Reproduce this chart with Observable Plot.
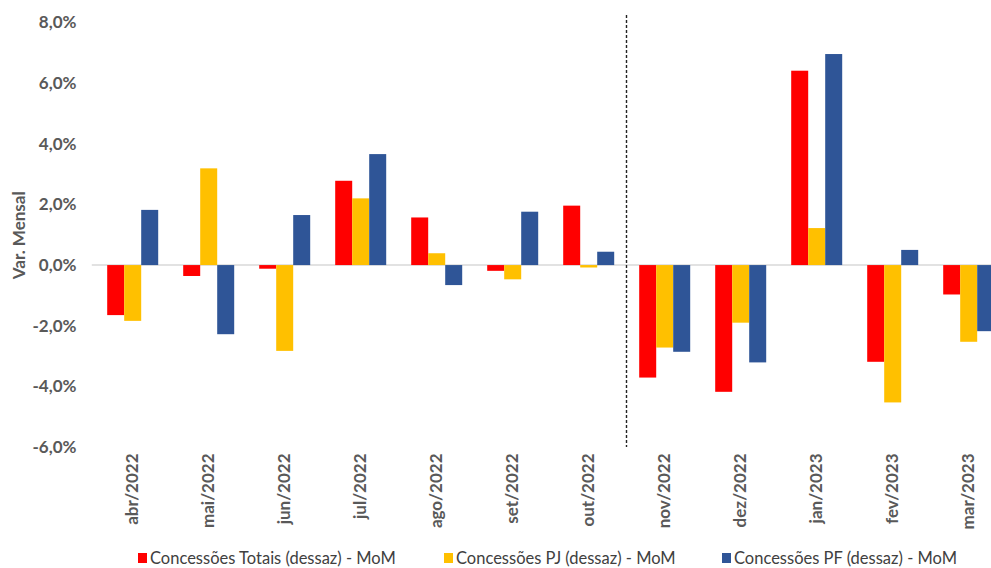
<!DOCTYPE html>
<html><head><meta charset="utf-8">
<script src="https://cdn.jsdelivr.net/npm/d3@7"></script>
<script src="https://cdn.jsdelivr.net/npm/@observablehq/plot@0.6"></script>
<style>
html,body{margin:0;padding:0;overflow:hidden;background:#fff;}
#legend{position:relative;height:33px;font-family:Lato,"Open Sans",sans-serif;font-size:16.5px;color:#404040;}
.item{position:absolute;top:14px;display:flex;align-items:center;white-space:nowrap;line-height:18px;}
.sw{width:9px;height:10px;margin-right:3px;display:inline-block;}
</style></head><body>
<div id="chart"></div>
<div id="legend"></div>
<script>
const months = ["abr/2022","mai/2022","jun/2022","jul/2022","ago/2022","set/2022","out/2022","nov/2022","dez/2022","jan/2023","fev/2023","mar/2023"];
const seriesNames = ["Concessões Totais (dessaz) - MoM","Concessões PJ (dessaz) - MoM","Concessões PF (dessaz) - MoM"];
const colors = ["#FF0000","#FFC000","#2F5597"];
const totais = [-1.65,-0.36,-0.12,2.78,1.57,-0.19,1.96,-3.71,-4.18,6.41,-3.19,-0.97];
const pj     = [-1.84,3.19,-2.83,2.20,0.39,-0.47,-0.08,-2.72,-1.90,1.22,-4.53,-2.53];
const pf     = [1.82,-2.28,1.65,3.66,-0.66,1.76,0.44,-2.86,-3.21,6.96,0.50,-2.18];
const yTicks = [-6,-4,-2,0,2,4,6,8];
const yDomain = [-6, 8];
const yLabel = "Var. Mensal";
const dividerAfter = "out/2022";
const dividerBefore = "nov/2022";
const dividerExtent = [-6, 8.25];
const legendLeft = [138, 444, 722];

const seriesValues = [totais, pj, pf];
const data = months.flatMap((m, i) => seriesNames.map((s, k) => ({month: m, series: s, value: seriesValues[k][i]})));
const fmt = d => d.toFixed(1).replace(".", ",") + "%";

const plot = Plot.plot({
  width: 1009, height: 535,
  marginLeft: 91.8, marginRight: 0, marginTop: 22.5, marginBottom: 88,
  facet: {data, x: "month"},
  fx: {domain: months, paddingInner: 0.333, paddingOuter: 0.1667, axis: "bottom", tickRotate: -90, tickSize: 0, tickPadding: 6, label: null},
  x: {domain: seriesNames, padding: 0, axis: null},
  y: {domain: yDomain, ticks: yTicks, tickFormat: fmt, tickSize: 0, tickPadding: 31, label: yLabel, labelAnchor: "center", labelOffset: 95, labelArrow: false},
  color: {domain: seriesNames, range: colors},
  style: {fontFamily: "Lato, 'Open Sans', sans-serif", fontSize: "17px", fontWeight: "bold", color: "#595959", background: "white", overflow: "visible", maxWidth: "none"},
  marks: [
    Plot.barY(data, {x: "series", y: "value", fill: "series"})
  ]
});
document.getElementById("chart").appendChild(plot);

const svg = plot.tagName.toLowerCase() === "svg" ? plot : plot.querySelector("svg");
svg.querySelectorAll("text").forEach(t => {
  if (t.textContent.includes(yLabel)) t.textContent = yLabel;
});
const ysd = plot.scale("y"), fxd = plot.scale("fx");
const yScale = ysd.apply ? (v => ysd.apply(v)) : d3.scaleLinear(ysd.domain, ysd.range);
let fxScale, bw;
if (fxd.apply) { fxScale = v => fxd.apply(v); bw = fxd.bandwidth; }
else {
  const b = d3.scaleBand(fxd.domain, fxd.range).paddingInner(fxd.paddingInner ?? fxd.padding).paddingOuter(fxd.paddingOuter ?? fxd.padding).align(fxd.align ?? 0.5);
  fxScale = b; bw = b.bandwidth();
}
const ns = "http://www.w3.org/2000/svg";
const y0 = yScale(0);
const zl = document.createElementNS(ns, "line");
zl.setAttribute("x1", fxd.range[0]); zl.setAttribute("x2", fxd.range[1]);
zl.setAttribute("y1", y0); zl.setAttribute("y2", y0);
zl.setAttribute("stroke", "#d9d9d9"); zl.setAttribute("stroke-width", "1.5");
svg.insertBefore(zl, svg.querySelector("g"));

const xd = (fxScale(dividerAfter) + bw + fxScale(dividerBefore)) / 2;
const dl = document.createElementNS(ns, "line");
dl.setAttribute("x1", xd); dl.setAttribute("x2", xd);
dl.setAttribute("y1", yScale(dividerExtent[1])); dl.setAttribute("y2", yScale(dividerExtent[0]));
dl.setAttribute("stroke", "#222"); dl.setAttribute("stroke-width", "1.4"); dl.setAttribute("stroke-dasharray", "3,2");
svg.appendChild(dl);

const legend = document.getElementById("legend");
seriesNames.forEach((s, k) => {
  const it = document.createElement("div");
  it.className = "item"; it.style.left = legendLeft[k] + "px";
  const sw = document.createElement("span"); sw.className = "sw"; sw.style.background = colors[k];
  const tx = document.createElement("span"); tx.textContent = s;
  it.appendChild(sw); it.appendChild(tx); legend.appendChild(it);
});
</script>
</body></html>
